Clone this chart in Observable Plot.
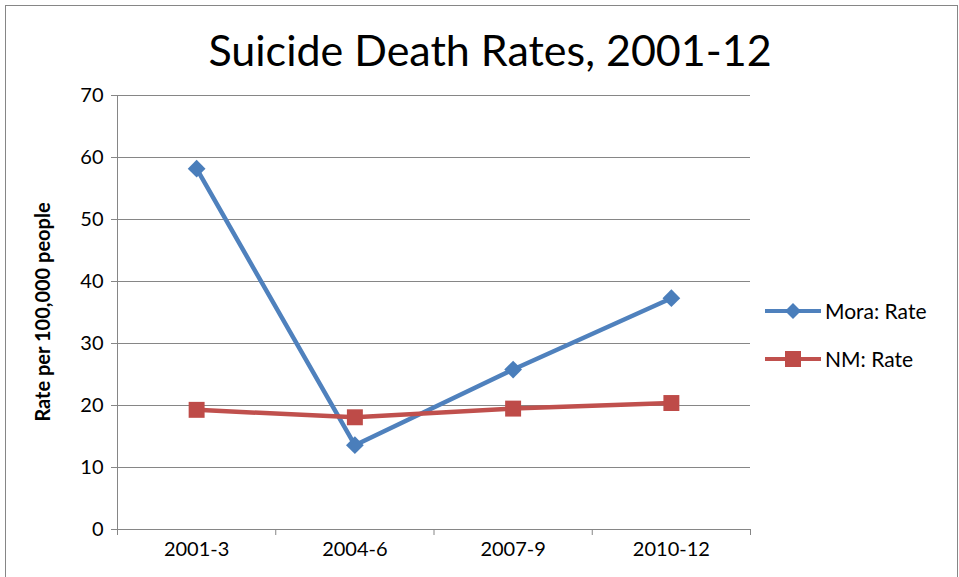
<!DOCTYPE html>
<html><head><meta charset="utf-8">
<script src="https://cdn.jsdelivr.net/npm/d3@7"></script>
<script src="https://cdn.jsdelivr.net/npm/@observablehq/plot@0.6"></script>
<style>
body{margin:0;background:#fff;font-family:Lato,"Open Sans",sans-serif}
#wrap{position:relative;width:959px;height:577px;overflow:hidden}
#frame{position:absolute;left:5px;top:5px;width:951px;height:590px;border:1px solid #868686}
#title{position:absolute;left:0;width:980px;top:24px;text-align:center;font-size:43px;color:#000}
#ylab{position:absolute;left:42px;top:312px;transform:translate(-50%,-50%) rotate(-90deg);font-weight:bold;font-size:20px;white-space:nowrap}
.leg{position:absolute;left:765px;font-size:21px;display:flex;align-items:center}
.leg svg{margin-right:4px}
#chart{position:absolute;left:0;top:0}
</style></head><body>
<div id="wrap">
<div id="frame"></div>
<div id="chart"></div>
<div id="title">Suicide Death Rates, 2001-12</div>
<div id="ylab">Rate per 100,000 people</div>
<div class="leg" style="top:298px"><svg width="56" height="24"><line x1="0" x2="56" y1="12" y2="12" stroke="#4f81bd" stroke-width="4"/><path d="M28,4 L36,12 L28,20 L20,12Z" fill="#4a7ebb"/></svg>Mora: Rate</div>
<div class="leg" style="top:346px"><svg width="56" height="24"><line x1="0" x2="56" y1="12" y2="12" stroke="#c0504d" stroke-width="4"/><rect x="20" y="4" width="16" height="16" fill="#be4b48"/></svg>NM: Rate</div>
</div>
<script>
const periods = ['2001-3', '2004-6', '2007-9', '2010-12']
const mora = [58.2, 13.6, 25.8, 37.3]
const nm = [19.3, 18.1, 19.5, 20.4]
const yTicks = [0, 10, 20, 30, 40, 50, 60, 70]

const rows = s => periods.map((p, i) => ({i: i + 0.5, v: s[i]}))
const moraRows = rows(mora), nmRows = rows(nm)

const chart = Plot.plot({
  width: 959, height: 577,
  marginLeft: 117, marginRight: 209, marginTop: 95, marginBottom: 48,
  style: {fontFamily: 'Lato, "Open Sans", sans-serif', fontSize: '20px', color: '#000', background: 'transparent'},
  x: {domain: [0, 4]},
  y: {domain: [0, 70]},
  marks: [
    Plot.gridY(yTicks.slice(1), {stroke: '#868686', strokeOpacity: 1}),
    Plot.axisY(yTicks, {tickSize: 6, tickPadding: 8, label: null, stroke: '#868686', fontSize: 20}),
    Plot.axisX([0.5, 1.5, 2.5, 3.5], {tickSize: 0, tickPadding: 12, tickFormat: d => periods[Math.floor(d)], label: null, fontSize: 20}),
    Plot.axisX([0, 1, 2, 3, 4], {tickSize: 6, tickFormat: () => '', label: null, stroke: '#868686'}),
    Plot.ruleY([0], {stroke: '#868686'}),
    Plot.ruleX([0], {stroke: '#868686'}),
    Plot.line(moraRows, {x: 'i', y: 'v', stroke: '#4f81bd', strokeWidth: 4.5}),
    Plot.line(nmRows, {x: 'i', y: 'v', stroke: '#c0504d', strokeWidth: 4.5}),
    Plot.dot(moraRows, {x: 'i', y: 'v', symbol: 'diamond2', r: 8, fill: '#4a7ebb'}),
    Plot.dot(nmRows, {x: 'i', y: 'v', symbol: 'square', r: 9, fill: '#be4b48'})
  ]
})
d3.select('#chart').append(() => chart)
</script>
</body></html>
